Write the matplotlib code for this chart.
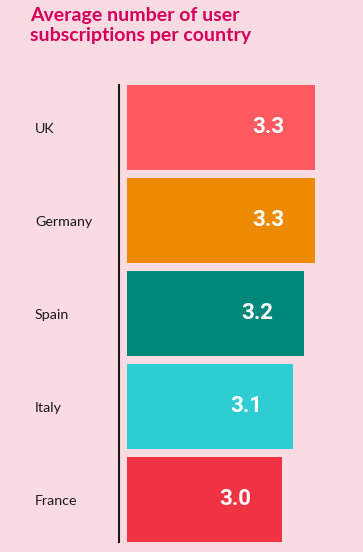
import matplotlib.pyplot as plt
import matplotlib.transforms as mtransforms

countries = ["UK", "Germany", "Spain", "Italy", "France"]
subs = [3.3, 3.3, 3.2, 3.1, 3.0]
bar_colors = ["#FF5A5F", "#EE8A00", "#00897A", "#2ECDD4", "#F03343"]
bg = "#FBDBE2"

fig = plt.figure(figsize=(3.63, 5.52), dpi=100, facecolor=bg)
ax = fig.add_axes([127 / 363, 10.3 / 552, 236 / 363, 456.7 / 552])
ax.set_facecolor(bg)

pos = range(len(countries))
ax.barh(pos, subs, height=0.914, color=bar_colors)
ax.set_xlim(1.59, 3.735)
ax.set_ylim(4.457, -0.457)

for s in ["top", "right", "bottom"]:
    ax.spines[s].set_visible(False)
# spine offset is in points: 8 px at 100 dpi
ax.spines["left"].set_position(("outward", 5.8))
ax.spines["left"].set_linewidth(1.5)
ax.spines["left"].set_color("#1a1a1a")
ax.set_xticks([])
ax.set_yticks([])

trans = mtransforms.blended_transform_factory(fig.transFigure, ax.transData)
for i, (c, v) in enumerate(zip(countries, subs)):
    ax.text(35 / 363, i + 0.02, c, transform=trans, ha="left", va="center",
            fontsize=10.3, family="Lato", color="#1a1a1a")
    ax.annotate(f"{v:.1f}", (v, i), xytext=(-31, 0), textcoords="offset pixels",
                ha="right", va="center", fontsize=16, fontweight="bold",
                family="Roboto", color="white")

fig.text(30 / 363, 1 - 7 / 552, "Average number of user\nsubscriptions per country",
         ha="left", va="top", fontsize=14, fontweight="bold", family="Lato",
         color="#D4005C", linespacing=1.2)

fig.savefig("out.png", dpi=100, facecolor=bg)
